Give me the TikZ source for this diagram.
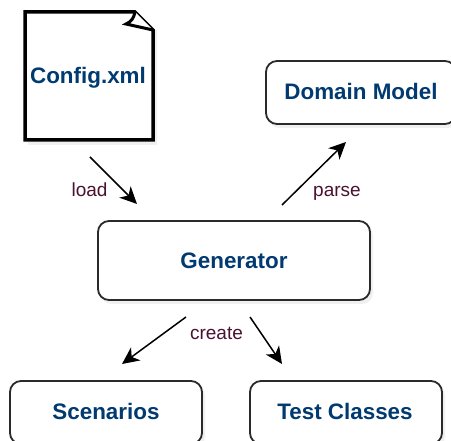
\documentclass[tikz,border=0pt]{standalone}
\usepackage{fontspec}
\setmainfont{Liberation Sans}
\usetikzlibrary{arrows.meta}
\definecolor{navy}{HTML}{003A70}
\definecolor{plum}{HTML}{4A1130}
\definecolor{edgeink}{HTML}{2A2A2A}
\tikzset{
  roundbox/.style={draw=edgeink,line width=1.8pt,rounded corners=11pt,fill=white},
  shade/.style={fill=black!6,draw=none,rounded corners=11pt},
  title/.style={text=navy,font=\fontsize{22.4}{24}\selectfont\bfseries,inner sep=0pt,anchor=base},
  lab/.style={text=plum,font=\fontsize{19}{21}\selectfont,inner sep=0pt,anchor=base},
  conn/.style={line width=1.5pt,-{Stealth[length=17pt,width=16pt,inset=5pt]}}
}
\begin{document}
\begin{tikzpicture}[x=1pt,y=-1pt]
\useasboundingbox (0,0) rectangle (451,441);
\clip (0,0) rectangle (451,441);
\fill[white] (0,0) rectangle (451,441);
% soft shadows
\fill[black!6] (28,16) -- (157,30) -- (157,145) -- (28,145) -- cycle;
\fill[shade] (269,65) rectangle (459,128);
\fill[shade] (101,225) rectangle (373,304);
\fill[shade] (13,385) rectangle (205,448);
\fill[shade] (253,385) rectangle (445,448);
% config document
\draw[line width=3.5pt,line join=miter,fill=white] (25,12) -- (135,12) -- (153,30) -- (153,140) -- (25,140) -- cycle;
\draw[line width=3pt,line join=miter,fill=white] (135,12) .. controls (134,18) and (131,22) .. (126,24) -- (153,30);
% boxes
\node[title] (config) at (88,84) {Config.xml};
\path[roundbox] (266,61) rectangle (456,124);
\node[title] (domain) at (361,100) {Domain Model};
\path[roundbox] (98,221) rectangle (370,300);
\node[title] (generator) at (234,269) {Generator};
\path[roundbox] (10,381) rectangle (202,444);
\node[title] (scenarios) at (106,420) {Scenarios};
\path[roundbox] (250,381) rectangle (442,444);
\node[title] (tests) at (345,420) {Test Classes};
% connector ends
\coordinate (a1) at (90,157); \coordinate (a2) at (137,204);
\coordinate (b1) at (282,205); \coordinate (b2) at (346,142);
\coordinate (c1) at (186,317); \coordinate (c2) at (122,364);
\coordinate (d1) at (250,317); \coordinate (d2) at (282,364);
\draw[conn] (a1) -- (a2);
\draw[conn] (b1) -- (b2);
\draw[conn] (c1) -- (c2);
\draw[conn] (d1) -- (d2);
\node[lab] (load) at (89.5,197) {load};
\node[lab] (parse) at (337,197) {parse};
\node[lab] (create) at (216.5,340) {create};
\end{tikzpicture}
\end{document}
